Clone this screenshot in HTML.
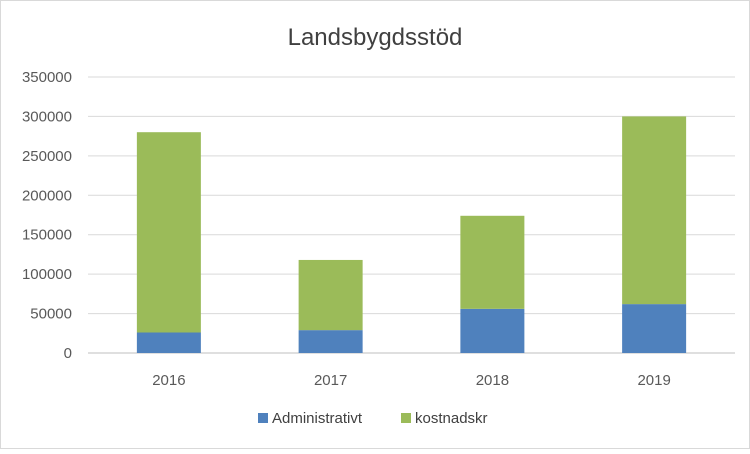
<!DOCTYPE html>
<html><head><meta charset="utf-8"><style>
body{margin:0;background:#fff;}
svg text{font-family:"Liberation Sans",Arial,sans-serif;}
</style></head><body>
<svg id="chart" width="750" height="449" viewBox="0 0 750 449" xmlns="http://www.w3.org/2000/svg">
<rect x="0.5" y="0.5" width="749" height="448" fill="#fff" stroke="#d9d9d9"/>
<text x="375" y="45" text-anchor="middle" font-size="24" fill="#404040">Landsbygdsstöd</text>
<g id="grid"></g><g id="bars"></g><g id="axes"></g>
<g>
<rect x="258" y="413" width="10" height="10" fill="#4f81bd"/>
<text x="272" y="423" font-size="15" fill="#404040">Administrativt</text>
<rect x="401" y="413" width="10" height="10" fill="#9bbb59"/>
<text x="415" y="423" font-size="15" fill="#404040">kostnadskr</text>
</g>
</svg>
<script>
const categories=["2016","2017","2018","2019"];
const administrativt=[26000,29000,56000,62000];
const kostnadskr=[254000,89000,118000,238000];
const yTicks=[0,50000,100000,150000,200000,250000,300000,350000];
const ns="http://www.w3.org/2000/svg";
const x0=88,x1=735,yBase=353,yTop=77,yMax=350000;
const y=v=>yBase-(v/yMax)*(yBase-yTop);
const band=(x1-x0)/categories.length, bw=64;
const xc=i=>x0+band*(i+0.5);
function mk(tag,attrs,parent){const e=document.createElementNS(ns,tag);for(const k in attrs)e.setAttribute(k,attrs[k]);document.getElementById(parent).appendChild(e);return e;}
yTicks.forEach(t=>{
 const l=mk("line",{x1:x0,x2:x1,y1:y(t),y2:y(t),stroke:t===0?"#bfbfbf":"#d9d9d9","stroke-width":1},"grid");
 
 
 const tx=mk("text",{x:72,y:y(t)+5,"text-anchor":"end","font-size":15,fill:"#595959"},"axes");
 tx.textContent=t;
 
 
});
categories.forEach((c,i)=>{
 const a=administrativt[i],k=kostnadskr[i];
 const r1=mk("rect",{x:xc(i)-bw/2,y:y(a),width:bw,height:yBase-y(a),fill:"#4f81bd"},"bars");
 
 
 const r2=mk("rect",{x:xc(i)-bw/2,y:y(a+k),width:bw,height:y(a)-y(a+k),fill:"#9bbb59"},"bars");
 
 
 const tx=mk("text",{x:xc(i),y:385,"text-anchor":"middle","font-size":15,fill:"#595959"},"axes");
 tx.textContent=c;
 
 
});
</script>
</body></html>
